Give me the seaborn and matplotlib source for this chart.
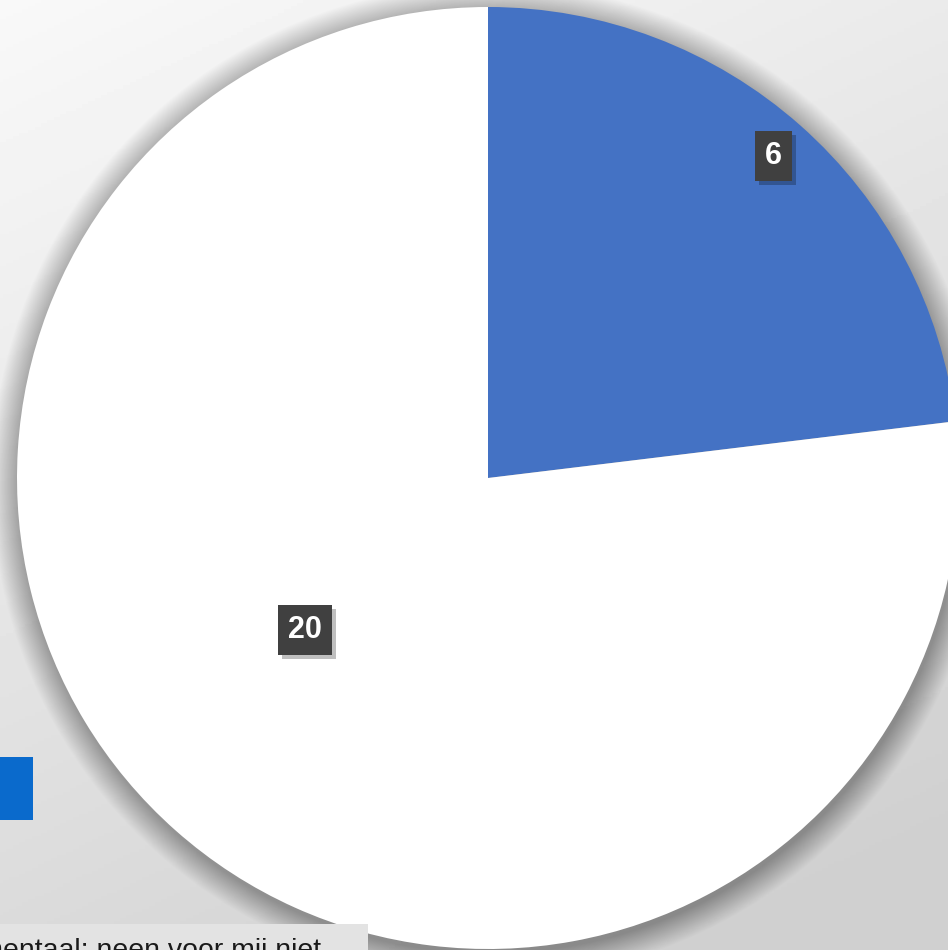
import numpy as np
import matplotlib
matplotlib.use("Agg")
import matplotlib.pyplot as plt
import matplotlib.patheffects as pe
from matplotlib.patches import Circle, Rectangle
import seaborn as sns

sns.set_theme(style="white")
plt.rcParams["font.family"] = ["Liberation Sans", "DejaVu Sans"]

# Survey answers
categories = ["Ja", "Neen"]
counts = [6, 20]
slice_colors = ["#4472C4", "#FFFFFF"]
legend_color = "#0A6ACC"
legend_text = "Sacramentaal: neen voor mij niet"

W, H = 948, 950
fig = plt.figure(figsize=(W / 100, H / 100), dpi=100)

# Soft grey backdrop
bg = fig.add_axes([0, 0, 1, 1])
yy, xx = np.mgrid[0:1:300j, 0:1:300j]
t = np.clip(0.75 * yy + 0.35 * xx, 0, 1)
shade = 0.975 - 0.16 * t
bg.imshow(shade, cmap="gray", vmin=0, vmax=1, extent=[0, 1, 0, 1],
          origin="upper", aspect="auto")
bg.set_axis_off()

# Pie axes: data units scaled so radius 1 = R pixels
cx, cy, R = 488, 478, 471
ax = fig.add_axes([0, 0, 1, 1])
ax.set_axis_off()
ax.patch.set_alpha(0)

# Soft drop shadow around the pie
n_layers = 36
for k in range(n_layers):
    r = 1.0 + 0.0016 * (n_layers - k)
    ax.add_patch(Circle((0.003, -0.008), r, color="black", alpha=0.0065,
                        lw=0, zorder=0))

wedges, _ = ax.pie(counts, colors=slice_colors, startangle=90,
                   counterclock=False, radius=1.0,
                   wedgeprops=dict(linewidth=0))
for w in wedges:
    w.set_zorder(2)

ax.set_aspect("auto")
ax.set_xlim(-cx / R, (W - cx) / R)
ax.set_ylim(-(H - cy) / R, cy / R)

# Value labels in dark boxes (distance from centre, position along the wedge)
label_dist = [0.913, 0.505]
label_frac = [0.5, 0.532]
for w, val, d, f in zip(wedges, counts, label_dist, label_frac):
    ang = np.deg2rad(w.theta2 - f * (w.theta2 - w.theta1))
    txt = ax.text(d * np.cos(ang), d * np.sin(ang), str(val), ha="center",
                  va="center", color="white", fontsize=22, fontweight="bold",
                  zorder=5,
                  bbox=dict(boxstyle="square,pad=0.33", fc="#404040",
                            ec="none"))
    txt.get_bbox_patch().set_path_effects(
        [pe.withSimplePatchShadow(offset=(3, -3), shadow_rgbFace="black",
                                  alpha=0.25), pe.Normal()])

# Legend fragment at the lower left
fig.add_artist(Rectangle((0, 1 - 820 / H), 33 / W, 63 / H,
                         transform=fig.transFigure, color=legend_color,
                         lw=0, zorder=6))
fig.add_artist(Rectangle((0, 0), 368 / W, 26 / H,
                         transform=fig.transFigure, color="#E3E3E3",
                         lw=0, zorder=6))
fig.text(321 / W, 1 - 958 / H, legend_text, ha="right", va="baseline",
         fontsize=20.4, color="#1a1a1a", zorder=7)

fig.savefig("out.png", dpi=100)
